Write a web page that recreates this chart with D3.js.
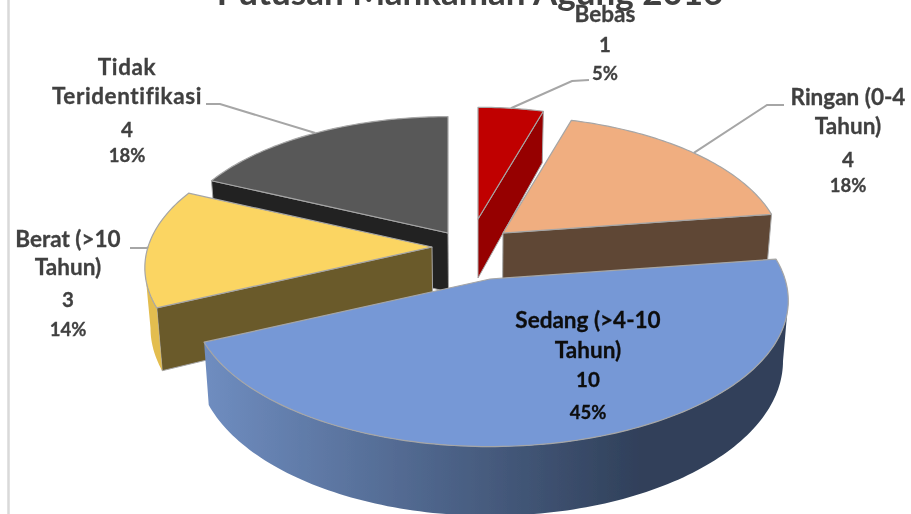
<!DOCTYPE html>
<html><head><meta charset="utf-8">
<script src="https://cdn.jsdelivr.net/npm/d3@7"></script>
<style>html,body{margin:0;padding:0;background:#fff;overflow:hidden}</style>
</head><body><svg id="c" width="911" height="514"></svg>
<script>
const title = "Putusan Mahkamah Agung 2016";
const categories = ["Bebas","Ringan (0-4 Tahun)","Sedang (>4-10 Tahun)","Berat (>10 Tahun)","Tidak Teridentifikasi"];
const values = [1,4,10,3,4];
const topColors = ["#c00000","#f0ae80","#7698d6","#fbd562","#595959"];
const sideColors = ["#960000","#5e4734","#30405a","#6b5a2c","#222222"];
const wallColors = ["#960000","#5e4734","url(#blueWall)","#e3bd50","#222222"];
// layout of exploded slices: apex x/y and radius on the page
const apexX = [478,503,490,432,448];
const apexY = [219,233,279,247,233];
const radii = [265,277,295,284,276];
const labelLines = [["Bebas"],["Ringan (0-4","Tahun)"],["Sedang (>4-10","Tahun)"],["Berat (>10","Tahun)"],["Tidak","Teridentifikasi"]];
const labelX = [605,848,588,68,127];
const labelBase = [[22,52,80],[105,134,167,192],[328,358,387,419],[247,275,307,336],[75,104,137,162]];
const labelInk = ["#404040","#404040","#0d0d0d","#404040","#404040"];
const labelSpacing = [0,0,0,0,0.6];
// leaders: elbow and end on the page, start at each slice's middle angle
const leaderElbow = [[572,81],[767,105],null,[147,248],[220,104]];
const leaderEnd = [[589,80],[784,105],null,[130,248],[206,104]];

const P = 0.148, K = 0.484, DEPTH = 59, MIDX = 478, SHRINK = 0.983;
const svg = d3.select("#c");
const defs = svg.append("defs");
const g = defs.append("linearGradient").attr("id","blueWall").attr("gradientUnits","userSpaceOnUse")
  .attr("x1",205).attr("x2",640).attr("y1",0).attr("y2",0);
g.append("stop").attr("offset",0).attr("stop-color","#6f8dc0");
g.append("stop").attr("offset",1).attr("stop-color","#30405a");
defs.append("filter").attr("id","soft").append("feGaussianBlur").attr("stdDeviation",0.5);

const root = svg.append("g").attr("filter","url(#soft)");
// chart frame, left edge
root.append("line").attr("x1",8.5).attr("x2",8.5).attr("y1",0).attr("y2",514).attr("stroke","#d9d9d9").attr("stroke-width",2.5);

const pie = d3.pie().sort(null).value(d=>d)(values);
const total = d3.sum(values);
const pct = d3.format(".0%");

function proj(i,t,r,bottom){
  const X=r*Math.sin(t),Y=-r*Math.cos(t),s=1/(1-P*Y);
  let x=apexX[i]+radii[i]*X*s, y=apexY[i]+radii[i]*K*Y*s;
  if(bottom){ y+=DEPTH*s; x=MIDX+(x-MIDX)*SHRINK; }
  return [x,y];
}
const line=d3.line();
const STEP=0.02;
function arcAngles(a,b){ const n=Math.max(2,Math.ceil((b-a)/STEP)); return d3.range(n+1).map(j=>a+(b-a)*j/n); }
const edge="#a6a6a6";
const silhouette=Math.acos(-P);
const order=[4,0,1,3,2];
order.forEach(i=>{
  const a=pie[i].startAngle,b=pie[i].endAngle;
  const G=root.append("g").attr("class","slice");
  const face=t=>[proj(i,t,0,false),proj(i,t,1,false),proj(i,t,1,true),proj(i,t,0,true)];
  if(Math.sin(a)<-1e-6) G.append("path").attr("d",line(face(a))+"Z").attr("fill",sideColors[i]).attr("stroke",edge).attr("stroke-width",1);
  if(Math.sin(b)>1e-6) G.append("path").attr("d",line(face(b))+"Z").attr("fill",sideColors[i]).attr("stroke",edge).attr("stroke-width",1);
  const w0=Math.max(a,silhouette),w1=Math.min(b,Math.PI*2-silhouette);
  if(w1>w0){
    const ang=arcAngles(w0,w1);
    const pts=ang.map(t=>proj(i,t,1,false)).concat(ang.slice().reverse().map(t=>proj(i,t,1,true)));
    G.append("path").attr("d",line(pts)+"Z").attr("fill",wallColors[i]);
  }
  const top=[proj(i,a,0,false)].concat(arcAngles(a,b).map(t=>proj(i,t,1,false)));
  G.append("path").attr("d",line(top)+"Z").attr("fill",topColors[i]).attr("stroke",edge).attr("stroke-width",1.2).attr("stroke-linejoin","round");
});

// leaders
pie.forEach((p,i)=>{
  if(!leaderEnd[i]) return;
  const t=(p.startAngle+p.endAngle)/2;
  root.append("path").attr("d",line([proj(i,t,1,false),leaderElbow[i],leaderEnd[i]])).attr("fill","none").attr("stroke",edge).attr("stroke-width",2);
});

// labels
const FONT="Lato, 'Open Sans', sans-serif";
pie.forEach((p,i)=>{
  const names=labelLines[i].length;
  const lines=labelLines[i].concat([String(values[i]),pct(values[i]/total)]);
  lines.forEach((txt,j)=>{
    const size = j<names ? 22.5 : (j===names ? 20.5 : 18.5);
    root.append("text").attr("x",labelX[i]).attr("y",labelBase[i][j]).attr("text-anchor","middle")
      .attr("font-family",FONT).attr("font-weight",700).attr("font-size",size).attr("fill",labelInk[i])
      .attr("stroke",labelInk[i]).attr("stroke-width",0.3)
      .attr("letter-spacing",j<names?labelSpacing[i]:0).text(txt);
  });
});
root.append("text").attr("x",470).attr("y",5).attr("text-anchor","middle").attr("font-family",FONT)
  .attr("font-weight",700).attr("font-size",35).attr("fill","#404040").text(title);
</script></body></html>
